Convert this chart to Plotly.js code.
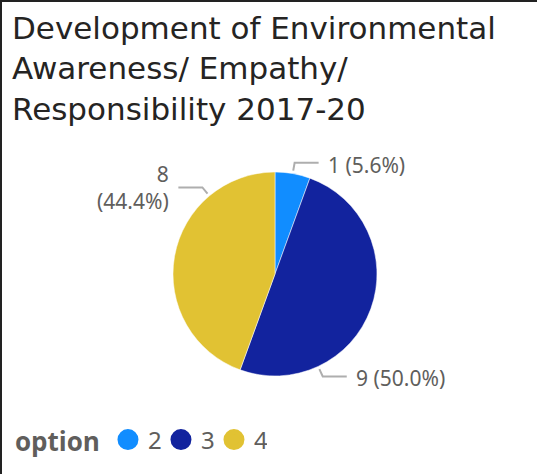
<!DOCTYPE html>
<html>
<head>
<meta charset="utf-8">
<script src="https://cdn.plot.ly/plotly-3.0.1.min.js"></script>
<style>
  html, body { margin: 0; padding: 0; background: #fff; }
  #wrap { position: relative; width: 537px; height: 474px; overflow: hidden; }
  #chart { width: 537px; height: 474px; }
  #frame { position: absolute; left: 0; top: 0; width: 560px; height: 500px;
           border-left: 2px solid #222; border-top: 2px solid #222; pointer-events: none; box-sizing: border-box; }
</style>
</head>
<body>
<div id="wrap"><div id="chart"></div><div id="frame"></div></div>
<script>
// ---- data ----
const titleText = 'Development of Environmental<br>Awareness/ Empathy/<br>Responsibility 2017-20';
const legendTitle = 'option';
const categories = ['2', '3', '4'];
const values = [1, 9, 8];
const sliceColors = ['#118DFF', '#12239E', '#E1C233'];

// ---- layout constants ----
const W = 537, H = 474;
const cx = 275, cy = 274, R = 102;
const anchorFrac = [0.5, 0.75, 0.75];   // where along each slice the leader line starts
const r1 = 105, r2 = 113, hLen = 24, gap = 7;
const labelColor = '#605E5C';
const lineColor = '#AEAEAE';

const total = values.reduce((a, b) => a + b, 0);
const px = x => x / W;
const py = y => 1 - y / H;

const annotations = [];
const shapes = [];
let acc = 0;
values.forEach((v, i) => {
  const start = acc / total * 360;
  const span = v / total * 360;
  acc += v;
  const ang = (start + span * anchorFrac[i]) * Math.PI / 180;
  const x1 = cx + r1 * Math.sin(ang), y1 = cy - r1 * Math.cos(ang);
  const x2 = cx + r2 * Math.sin(ang), y2 = cy - r2 * Math.cos(ang);
  const right = Math.sin(ang) >= 0;
  const x3 = x2 + (right ? hLen : -hLen);
  shapes.push({
    type: 'path', xref: 'paper', yref: 'paper',
    path: `M ${px(x1)} ${py(y1)} L ${px(x2)} ${py(y2)} L ${px(x3)} ${py(y2)}`,
    line: { color: lineColor, width: 2 }
  });
  const pct = (v / total * 100).toFixed(1) + '%';
  const txt = right ? `${v} (${pct})` : `${v}<br>(${pct})`;
  annotations.push({
    xref: 'paper', yref: 'paper',
    x: px(x3 + (right ? gap : -gap)), y: py(y2 + (right ? 2 : 0)),
    xanchor: right ? 'left' : 'right', yanchor: 'middle',
    align: right ? 'left' : 'right',
    text: txt, showarrow: false,
    font: { family: 'Noto Sans, Open Sans, sans-serif', size: 21, color: labelColor }
  });
});

// title as a top-anchored annotation (multi-line)
annotations.push({
  xref: 'paper', yref: 'paper', x: px(10), y: py(8), xanchor: 'left', yanchor: 'top',
  align: 'left', showarrow: false, text: titleText,
  font: { family: 'DejaVu Sans, sans-serif', size: 31, color: '#252423' }
});

const pieTrace = {
  type: 'pie',
  labels: categories,
  values: values,
  sort: false,
  direction: 'clockwise',
  rotation: 0,
  marker: { colors: sliceColors, line: { color: '#ffffff', width: 0.5 } },
  textinfo: 'none',
  hoverinfo: 'label+value+percent',
  showlegend: false,
  domain: { x: [px(cx - R), px(cx + R)], y: [py(cy + R), py(cy - R)] }
};

const legendTraces = categories.map((c, i) => ({
  type: 'scatter', mode: 'markers', x: [null], y: [null], name: c,
  marker: { color: sliceColors[i], size: 16, symbol: 'circle', line: { color: sliceColors[i], width: 5 } },
  hoverinfo: 'skip'
}));

const layout = {
  width: W, height: H,
  margin: { l: 0, r: 0, t: 0, b: 0 },
  paper_bgcolor: '#ffffff', plot_bgcolor: '#ffffff',
  xaxis: { visible: false }, yaxis: { visible: false },
  showlegend: true,
  legend: {
    orientation: 'h', x: 13 / W, xanchor: 'left', y: py(440), yanchor: 'middle',
    entrywidth: 8,
    title: { text: legendTitle, side: 'left', font: { family: 'Open Sans, sans-serif', size: 26, color: labelColor, weight: 'bold' } },
    font: { family: 'Noto Sans, Open Sans, sans-serif', size: 24, color: labelColor },
    itemclick: false, itemdoubleclick: false,
    bgcolor: 'rgba(0,0,0,0)'
  },
  annotations: annotations,
  shapes: shapes
};

Plotly.newPlot('chart', [pieTrace].concat(legendTraces), layout, { displayModeBar: false, staticPlot: true });
</script>
</body>
</html>
